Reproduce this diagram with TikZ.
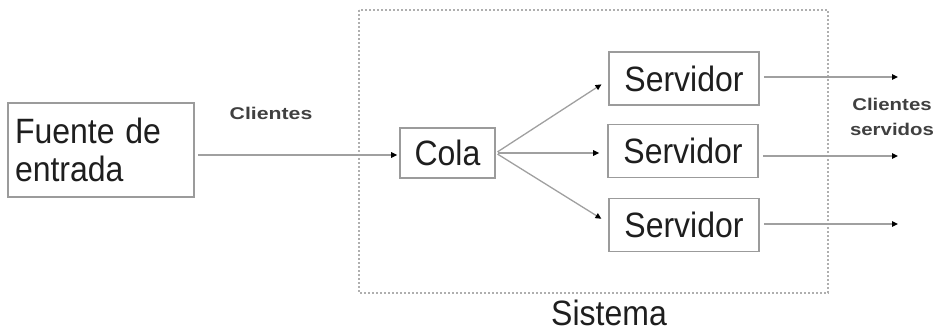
\documentclass[tikz,border=0pt]{standalone}
\usepackage{fontspec}
\setmainfont{Liberation Sans}
\usetikzlibrary{arrows.meta}
\definecolor{boxgray}{RGB}{155,155,155}
\definecolor{linegray}{RGB}{160,160,160}
\definecolor{dotgray}{RGB}{175,175,175}
\definecolor{txt}{RGB}{30,30,30}
\begin{document}
\begin{tikzpicture}[x=1pt,y=-1pt,
  box/.style={draw=boxgray,line width=1.6pt,inner sep=0pt,text=txt,font=\fontsize{32}{38}\selectfont},
  flow/.style={draw=linegray,line width=1.3pt,-{Triangle[length=6pt,width=5.5pt,fill=black,color=black]}},
  small/.style={text=txt!85,font=\bfseries\fontsize{17}{25}\selectfont}]
\useasboundingbox (0,0) rectangle (934,332);
\draw[dotgray,line width=1.6pt,dash pattern=on 2pt off 2pt] (359,10) rectangle (828,293);
\node[box,minimum width=186pt,minimum height=94pt,align=left,text width=172pt] (fuente) at (101,150) {\scalebox{1}[1.1]{Fuente de}\\\scalebox{1}[1.1]{entrada}};
\node[box,minimum width=95pt,minimum height=50pt] (cola) at (447.5,153) {\scalebox{1}[1.1]{Cola}};
\node[box,minimum width=150pt,minimum height=53pt] (s1) at (684,78.5) {\scalebox{1}[1.1]{Servidor}};
\node[box,minimum width=150pt,minimum height=53pt] (s2) at (683,151) {\scalebox{1}[1.1]{Servidor}};
\node[box,minimum width=150pt,minimum height=53pt] (s3) at (684,225) {\scalebox{1}[1.1]{Servidor}};
\coordinate (o1) at (898,77);
\coordinate (o2) at (898,156);
\coordinate (o3) at (898,224);
\draw[flow,shorten <=3pt,shorten >=2pt] (fuente.east |- 0,155) -- (cola.west |- 0,155);
\draw[flow,shorten <=2pt,shorten >=8pt] (cola.east) -- (s1.west |- 0,80);
\draw[flow,shorten <=2pt,shorten >=8pt] (cola.east) -- (s2.west |- cola.east);
\draw[flow,shorten <=2pt,shorten >=8pt] (cola.east) -- (s3.west |- 0,223);
\draw[flow,shorten <=4pt] (s1.east |- o1) -- (o1);
\draw[flow,shorten <=4pt] (s2.east |- o2) -- (o2);
\draw[flow,shorten <=4pt] (s3.east |- o3) -- (o3);
\node[small] (cl) at (271,113) {\scalebox{1.25}[1]{Clientes}};
\node[small,align=center] (cs) at (892,117) {\scalebox{1.2}[1]{Clientes}\\\scalebox{1.2}[1]{servidos}};
\node[text=txt,font=\fontsize{32}{38}\selectfont] (sis) at (609,313) {\scalebox{1}[1.1]{Sistema}};
\end{tikzpicture}
\end{document}
